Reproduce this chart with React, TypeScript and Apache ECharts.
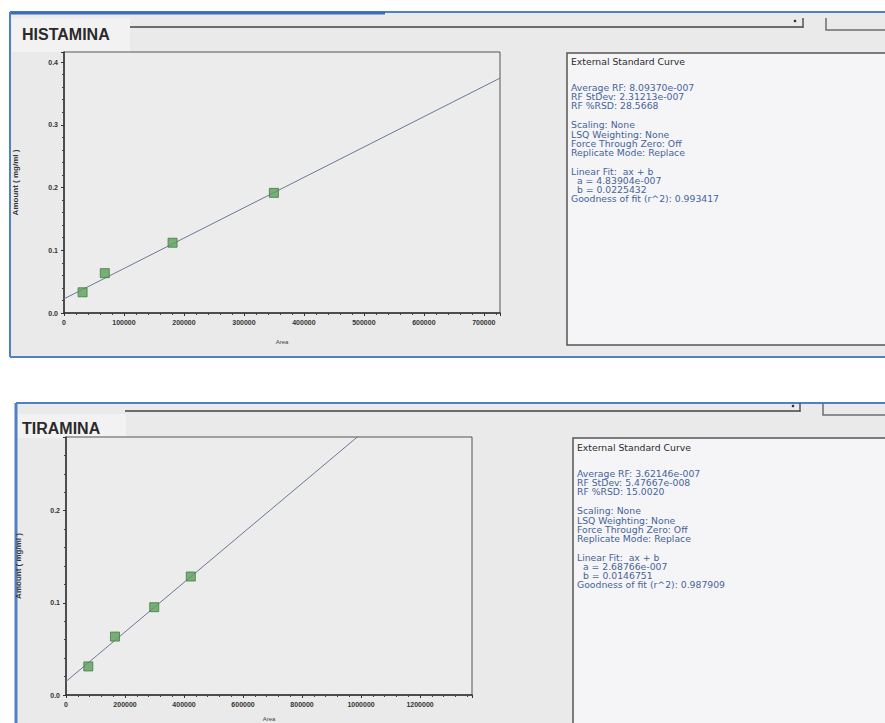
import React, { useEffect, useRef } from "react";
import * as echarts from "echarts";

// ---- Data ----
const histamineArea = [31000, 68000, 181000, 350000];
const histamineAmount = [0.033, 0.0635, 0.112, 0.1915];
const histamineFitA = 4.83904e-7;
const histamineFitB = 0.0225432;
const histamineXMax = 727000;
const histamineYMax = 0.416;
const histamineXInterval = 100000;

const tyramineArea = [75600, 166000, 299000, 423000];
const tyramineAmount = [0.031, 0.0634, 0.0953, 0.1286];
const tyramineFitA = 2.68766e-7;
const tyramineFitB = 0.0146751;
const tyramineXMax = 1376000;
const tyramineYMax = 0.28;
const tyramineXInterval = 200000;

const panelTitles = ["HISTAMINA", "TIRAMINA"];
const yAxisTitle = "Amount ( mg/ml )";
const xAxisTitle = "Area";

const histamineReport = [
  "External Standard Curve",
  "Average RF: 8.09370e-007",
  "RF StDev: 2.31213e-007",
  "RF %RSD: 28.5668",
  "Scaling: None",
  "LSQ Weighting: None",
  "Force Through Zero: Off",
  "Replicate Mode: Replace",
  "Linear Fit:  ax + b",
  "  a = 4.83904e-007",
  "  b = 0.0225432",
  "Goodness of fit (r^2): 0.993417",
];
const tyramineReport = [
  "External Standard Curve",
  "Average RF: 3.62146e-007",
  "RF StDev: 5.47667e-008",
  "RF %RSD: 15.0020",
  "Scaling: None",
  "LSQ Weighting: None",
  "Force Through Zero: Off",
  "Replicate Mode: Replace",
  "Linear Fit:  ax + b",
  "  a = 2.68766e-007",
  "  b = 0.0146751",
  "Goodness of fit (r^2): 0.987909",
];

// ---- Styling ----
const BLUE = "#4f81c4";
const PANEL_BG = "#eaeaea";
const LINE_OFFSETS = [0, 26, 35, 44, 63, 73, 82, 91, 110, 119, 128, 137];

function reportGraphics(lines: string[], x: number, y: number) {
  return lines.map((t, i) => ({
    type: "text",
    x,
    y: y + LINE_OFFSETS[i],
    scaleX: 1.08,
    style: {
      text: t,
      fill: i === 0 ? "#2b2b2b" : "#46639a",
      font: "8.6px 'DejaVu Sans', sans-serif",
      verticalAlign: "middle",
    },
  }));
}

function axisCommon() {
  return {
    axisLine: { show: true, onZero: false, lineStyle: { color: "#333", width: 1.5 } },
    axisTick: { show: true, length: 3, lineStyle: { color: "#333" } },
    minorTick: { show: true, splitNumber: 5, length: 2, lineStyle: { color: "#444" } },
    splitLine: { show: false },
    minorSplitLine: { show: false },
  };
}

export default function App() {
  const ref = useRef<HTMLDivElement>(null);

  useEffect(() => {
    document.body.style.margin = "0";
    const chart = echarts.init(ref.current!, null, { renderer: "svg" });

    const histFit = [
      [0, histamineFitB],
      [histamineXMax, histamineFitA * histamineXMax + histamineFitB],
    ];
    const tyrFit = [
      [0, tyramineFitB],
      [tyramineXMax, tyramineFitA * tyramineXMax + tyramineFitB],
    ];

    const labelStyle = {
      fontSize: 7,
      color: "#333",
      fontFamily: "'Liberation Sans', Arial, sans-serif",
      fontWeight: "bold" as const,
    };

    const option: any = {
      animation: false,
      backgroundColor: "#ffffff",
      grid: [
        {
          left: 64, top: 52, width: 436, height: 261,
          show: true, backgroundColor: "#ececec", borderColor: "#555", borderWidth: 1,
          containLabel: false, outerBoundsMode: "none",
        },
        {
          left: 66, top: 437, width: 406, height: 258,
          show: true, backgroundColor: "#ececec", borderColor: "#555", borderWidth: 1,
          containLabel: false, outerBoundsMode: "none",
        },
      ],
      xAxis: [
        {
          type: "value", gridIndex: 0, min: 0, max: histamineXMax, interval: histamineXInterval,
          ...axisCommon(),
          axisLabel: { ...labelStyle, margin: 6, showMaxLabel: false, formatter: (v: number) => String(v) },
          name: xAxisTitle, nameLocation: "middle", nameGap: 26,
          nameTextStyle: { fontSize: 6, color: "#444" },
        },
        {
          type: "value", gridIndex: 1, min: 0, max: tyramineXMax, interval: tyramineXInterval,
          ...axisCommon(),
          axisLabel: { ...labelStyle, margin: 6, showMaxLabel: false, formatter: (v: number) => String(v) },
          name: xAxisTitle, nameLocation: "middle", nameGap: 21,
          nameTextStyle: { fontSize: 6, color: "#444" },
        },
      ],
      yAxis: [
        {
          type: "value", gridIndex: 0, min: 0, max: histamineYMax, interval: 0.1,
          ...axisCommon(),
          axisLabel: { ...labelStyle, margin: 6, showMaxLabel: false, formatter: (v: number) => v.toFixed(1) },
          name: yAxisTitle, nameLocation: "middle", nameGap: 45, nameRotate: 90,
          nameTextStyle: { fontSize: 8, color: "#333", fontWeight: "bold" },
        },
        {
          type: "value", gridIndex: 1, min: 0, max: tyramineYMax, interval: 0.1,
          ...axisCommon(),
          axisLabel: { ...labelStyle, margin: 6, showMaxLabel: false, formatter: (v: number) => v.toFixed(1) },
          name: yAxisTitle, nameLocation: "middle", nameGap: 44, nameRotate: 90,
          nameTextStyle: { fontSize: 8, color: "#333", fontWeight: "bold" },
        },
      ],
      series: [
        {
          type: "line", xAxisIndex: 0, yAxisIndex: 0, data: histFit, showSymbol: false, clip: true,
          lineStyle: { color: "#6a7896", width: 1 }, z: 2,
        },
        {
          type: "scatter", xAxisIndex: 0, yAxisIndex: 0,
          data: histamineArea.map((x, i) => [x, histamineAmount[i]]),
          symbol: "rect", symbolSize: 9,
          itemStyle: { color: "#5c9f5c", borderColor: "#3f7d3f", borderWidth: 1 }, z: 3,
        },
        {
          type: "line", xAxisIndex: 1, yAxisIndex: 1, data: tyrFit, showSymbol: false, clip: true,
          lineStyle: { color: "#6a7896", width: 1 }, z: 2,
        },
        {
          type: "scatter", xAxisIndex: 1, yAxisIndex: 1,
          data: tyramineArea.map((x, i) => [x, tyramineAmount[i]]),
          symbol: "rect", symbolSize: 9,
          itemStyle: { color: "#5c9f5c", borderColor: "#3f7d3f", borderWidth: 1 }, z: 3,
        },
      ],
      graphic: [
        // top panel
        { type: "rect", z: -100, shape: { x: 10, y: 12, width: 875, height: 345 }, style: { fill: PANEL_BG } },
        { type: "rect", z: -99, shape: { x: 12, y: 18, width: 118, height: 34 }, style: { fill: "#f2f2f2" } },
        { type: "line", shape: { x1: 10, y1: 12, x2: 885, y2: 12 }, style: { stroke: BLUE, lineWidth: 2 } },
        { type: "line", shape: { x1: 10, y1: 13, x2: 385, y2: 13 }, style: { stroke: "#3a6fb6", lineWidth: 3 } },
        { type: "line", shape: { x1: 10, y1: 12, x2: 10, y2: 357 }, style: { stroke: BLUE, lineWidth: 2 } },
        { type: "line", shape: { x1: 10, y1: 357, x2: 885, y2: 357 }, style: { stroke: BLUE, lineWidth: 2 } },
        { type: "line", shape: { x1: 130, y1: 27, x2: 803, y2: 27 }, style: { stroke: "#6d6d6d", lineWidth: 2 } },
        { type: "line", shape: { x1: 803, y1: 18, x2: 803, y2: 28 }, style: { stroke: "#555", lineWidth: 1.5 } },
        { type: "circle", shape: { cx: 795, cy: 21, r: 1.3 }, style: { fill: "#333" } },
        { type: "polyline", shape: { points: [[826, 18], [826, 30], [885, 30]] }, style: { stroke: "#6d6d6d", lineWidth: 1.5, fill: "none" } },
        {
          type: "text", x: 22, y: 34,
          style: { text: panelTitles[0], font: "bold 16px 'Liberation Sans', Arial, sans-serif", fill: "#2a2a2a", verticalAlign: "middle" },
        },
        { type: "rect", z: -98, shape: { x: 567, y: 53, width: 320, height: 292 }, style: { fill: "#f5f5f7", stroke: "#555", lineWidth: 1.5 } },
        ...reportGraphics(histamineReport, 571, 62),

        // bottom panel
        { type: "rect", z: -100, shape: { x: 16, y: 403, width: 869, height: 320 }, style: { fill: PANEL_BG } },
        { type: "rect", z: -99, shape: { x: 18, y: 414, width: 108, height: 24 }, style: { fill: "#f2f2f2" } },
        { type: "line", shape: { x1: 16, y1: 403, x2: 885, y2: 403 }, style: { stroke: BLUE, lineWidth: 2 } },
        { type: "line", shape: { x1: 16, y1: 403, x2: 16, y2: 723 }, style: { stroke: BLUE, lineWidth: 3 } },
        { type: "line", shape: { x1: 125, y1: 411, x2: 800, y2: 411 }, style: { stroke: "#6d6d6d", lineWidth: 2 } },
        { type: "line", shape: { x1: 800, y1: 403, x2: 800, y2: 412 }, style: { stroke: "#555", lineWidth: 1.5 } },
        { type: "circle", shape: { cx: 793, cy: 406, r: 1.3 }, style: { fill: "#333" } },
        { type: "polyline", shape: { points: [[823, 403], [823, 415], [885, 415]] }, style: { stroke: "#6d6d6d", lineWidth: 1.5, fill: "none" } },
        {
          type: "text", x: 22, y: 428,
          style: { text: panelTitles[1], font: "bold 16px 'Liberation Sans', Arial, sans-serif", fill: "#2a2a2a", verticalAlign: "middle" },
        },
        { type: "rect", z: -98, shape: { x: 573, y: 438, width: 320, height: 300 }, style: { fill: "#f5f5f7", stroke: "#555", lineWidth: 1.5 } },
        ...reportGraphics(tyramineReport, 577, 448),
      ],
    };

    chart.setOption(option);
    return () => chart.dispose();
  }, []);

  return <div ref={ref} style={{ width: 885, height: 723 }} />;
}
